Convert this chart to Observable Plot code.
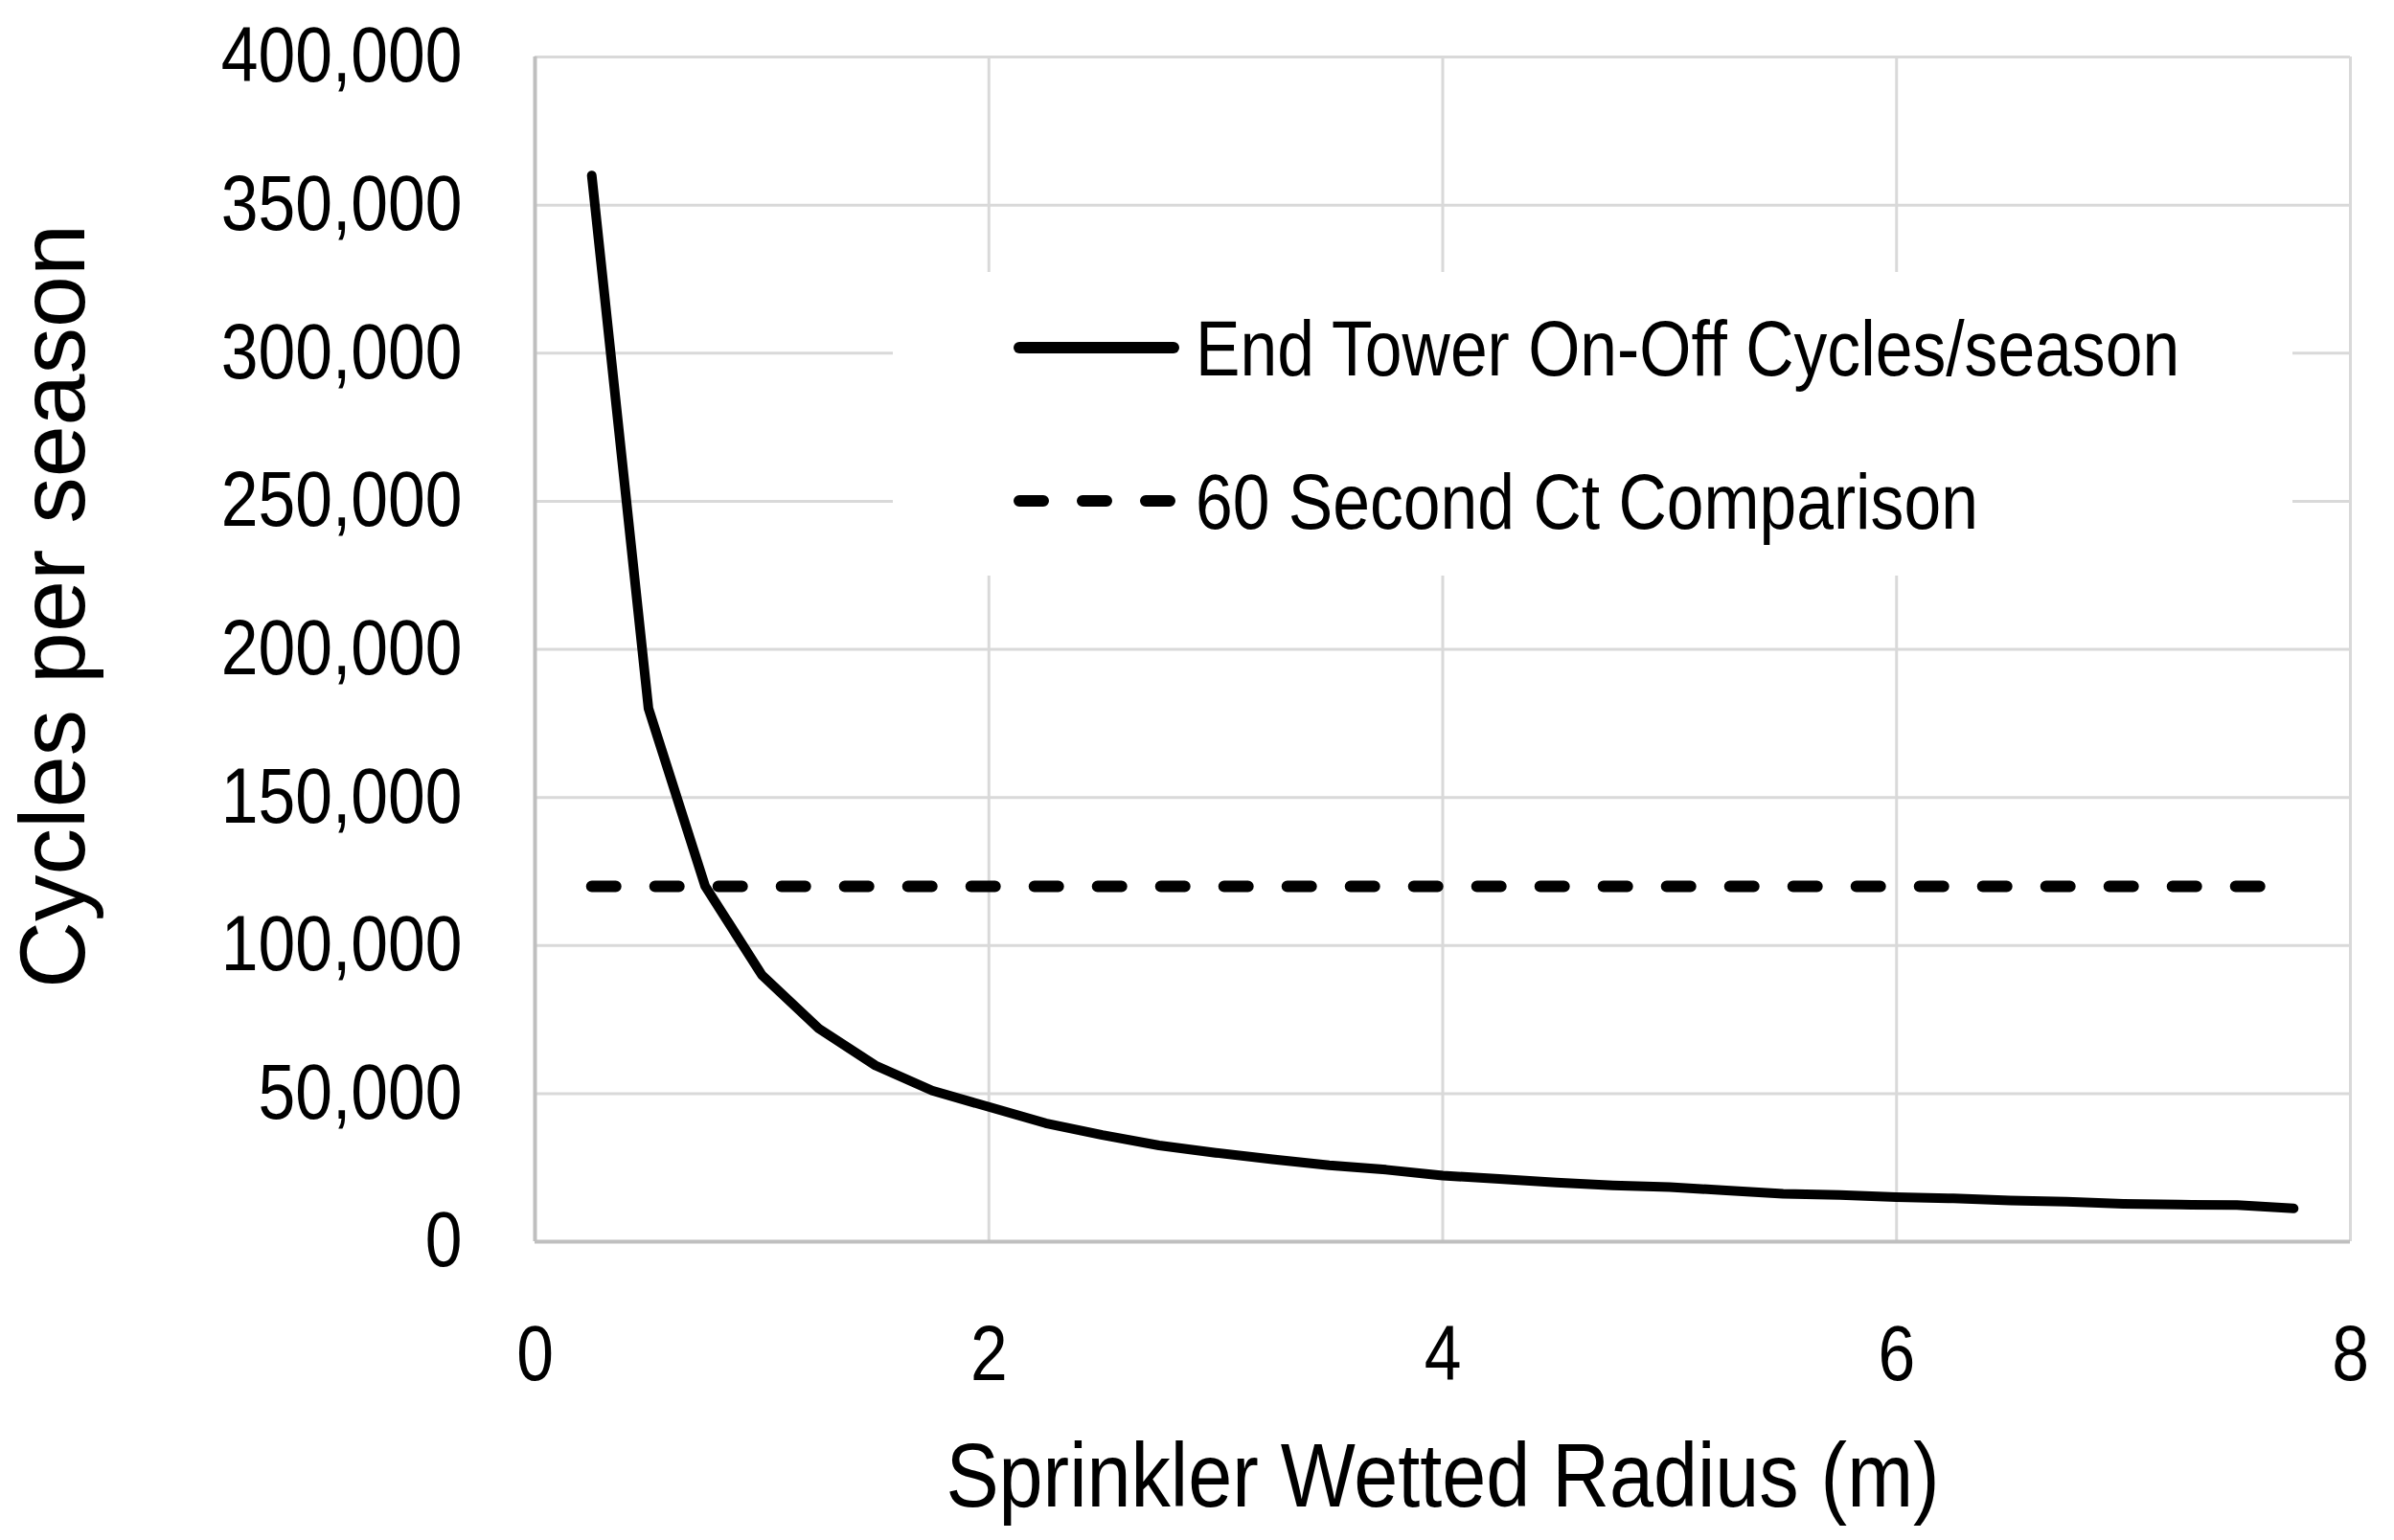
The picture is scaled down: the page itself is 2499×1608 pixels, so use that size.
<!DOCTYPE html>
<html>
<head>
<meta charset="utf-8">
<script src="https://cdn.jsdelivr.net/npm/d3@7"></script>
<script src="https://cdn.jsdelivr.net/npm/@observablehq/plot@0.6"></script>
<style>
  html, body { margin: 0; padding: 0; background: #ffffff; }
  #chart { width: 2499px; height: 1608px; }
</style>
</head>
<body>
<div id="chart"></div>
<script>
// ---- data ----
const radius = [0.25, 0.5, 0.75, 1.0, 1.25, 1.5, 1.75, 2.0, 2.25, 2.5, 2.75, 3.0, 3.25, 3.5, 3.75, 4.0,
                4.25, 4.5, 4.75, 5.0, 5.25, 5.5, 5.75, 6.0, 6.25, 6.5, 6.75, 7.0, 7.25, 7.5, 7.75];
const cycles = [360000, 180000, 120000, 90000, 72000, 59500, 51000, 45500, 40000, 36000, 32500, 30000,
                27800, 25800, 24300, 22300, 21200, 20000, 19000, 18400, 17300, 16200, 15800, 15000,
                14600, 13900, 13500, 12800, 12500, 12400, 11200];
const comparisonX = [0.25, 7.75];
const comparisonY = [120000, 120000];
const xTicks = [0, 2, 4, 6, 8];
const yTicks = [0, 50000, 100000, 150000, 200000, 250000, 300000, 350000, 400000];
const xTitle = "Sprinkler Wetted Radius (m)";
const yTitle = "Cycles per season";
const legendLabels = ["End Tower On-Off Cycles/season", "60 Second Ct Comparison"];

const curve = radius.map((r, i) => ({r, c: cycles[i]}));
const comparison = comparisonX.map((r, i) => ({r, c: comparisonY[i]}));

const font = "'Liberation Sans', Arial, sans-serif";
const gridColor = "#d9d9d9";
const axisColor = "#bfbfbf";
const dash = "25,41";

const chart = Plot.plot({
  width: 2499,
  height: 1608,
  marginLeft: 558,
  marginRight: 46,
  marginTop: 59,
  marginBottom: 312,
  style: {fontFamily: font, fontSize: "81px", color: "#000", background: "#fff"},
  x: {domain: [0, 8]},
  y: {domain: [0, 400000]},
  marks: [
    Plot.gridX(xTicks, {stroke: gridColor, strokeOpacity: 1, strokeWidth: 3}),
    Plot.gridY(yTicks, {stroke: gridColor, strokeOpacity: 1, strokeWidth: 3}),
    Plot.ruleX([0], {stroke: axisColor, strokeWidth: 4}),
    Plot.ruleY([0], {stroke: axisColor, strokeWidth: 4}),
    Plot.axisX({ticks: xTicks, tickSize: 0, tickPadding: 87, label: null, fontSize: 81}),
    Plot.axisY({ticks: yTicks, tickSize: 0, tickPadding: 76, label: null, fontSize: 81,
                tickFormat: d3.format(",")}),
    Plot.line(comparison, {x: "r", y: "c", stroke: "#000", strokeWidth: 12,
                           strokeDasharray: dash, strokeLinecap: "round"}),
    Plot.line(curve, {x: "r", y: "c", stroke: "#000", strokeWidth: 10,
                      strokeLinejoin: "round", strokeLinecap: "round"}),
    Plot.text([xTitle], {frameAnchor: "bottom", textAnchor: "middle", lineAnchor: "middle",
                         dy: 246, fontSize: 94, fill: "#000"}),
    Plot.text([yTitle], {frameAnchor: "left", textAnchor: "middle", lineAnchor: "middle",
                         rotate: -90, dx: -502, dy: -45, fontSize: 97, fill: "#000"})
  ]
});

document.getElementById("chart").appendChild(chart);

// ---- legend (inside the plot area, white box over the grid) ----
const svg = d3.select(chart);
const lg = svg.append("g").attr("class", "legend");
lg.append("rect").attr("x", 932).attr("y", 284).attr("width", 1461).attr("height", 317).attr("fill", "#fff");
const rowsY = [363, 523];
const dashes = [null, dash];
legendLabels.forEach((label, i) => {
  lg.append("line")
    .attr("x1", 1064).attr("x2", 1225)
    .attr("y1", rowsY[i]).attr("y2", rowsY[i])
    .attr("stroke", "#000").attr("stroke-width", 12)
    .attr("stroke-linecap", "round")
    .attr("stroke-dasharray", dashes[i]);
  lg.append("text")
    .attr("transform", `translate(1248,${rowsY[i]})`)
    .attr("dy", "0.36em")
    .attr("text-anchor", "start")
    .attr("font-family", font).attr("font-size", 81).attr("fill", "#000")
    .text(label);
});

// horizontal condensing of the (upright) texts, to match the narrow lettering of the original
svg.selectAll("text").each(function () {
  const s = this.textContent;
  if (s === yTitle) return;
  const k = s === xTitle ? 0.88 : 0.86;
  const t = this.getAttribute("transform") || "";
  this.setAttribute("transform", `${t} scale(${k},1)`);
});
</script>
</body>
</html>
